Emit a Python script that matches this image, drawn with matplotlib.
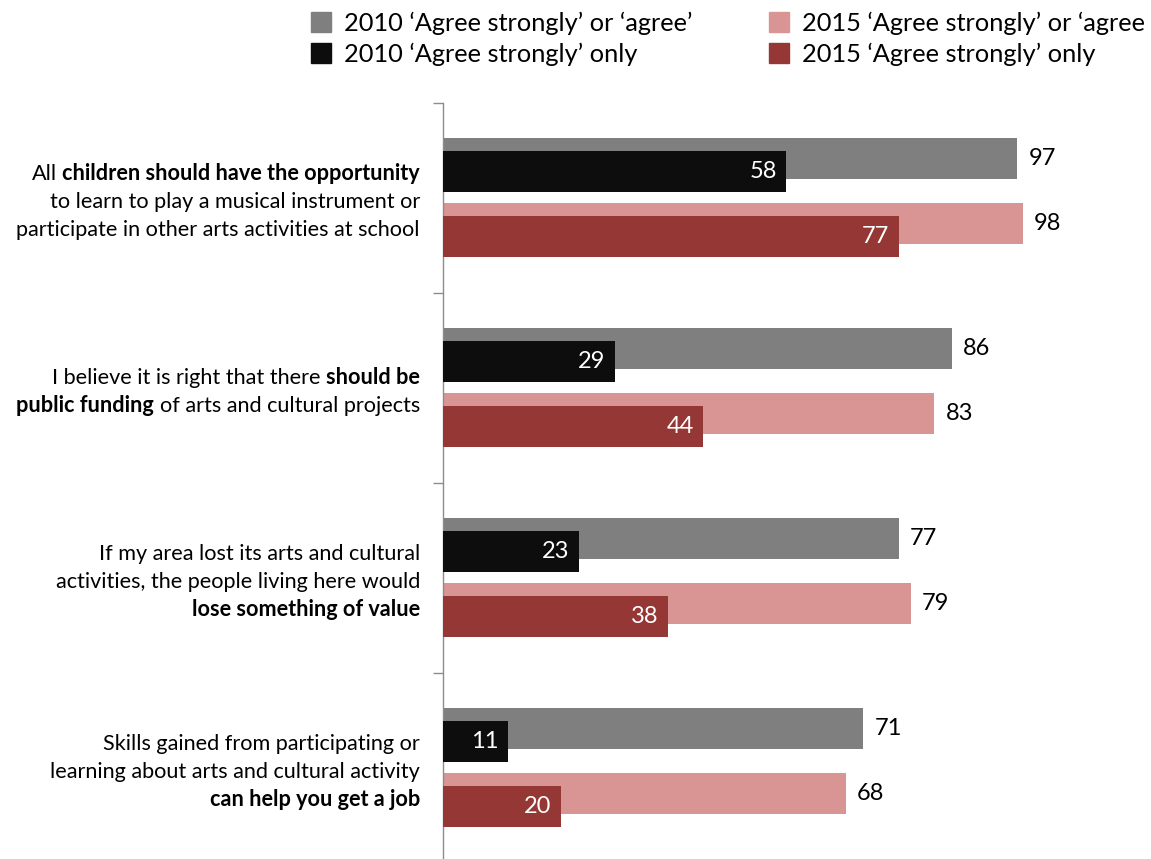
import matplotlib
matplotlib.use("Agg")
import matplotlib.pyplot as plt
from matplotlib.patches import Rectangle

# ---- data -------------------------------------------------------------
statements = [
    [[("All", False), ("children should have the opportunity", True)],
     [("to learn to play a musical instrument or", False)],
     [("participate in other arts activities at school", False)]],
    [[("I believe it is right that there", False), ("should be", True)],
     [("public funding", True), ("of arts and cultural projects", False)]],
    [[("If my area lost its arts and cultural", False)],
     [("activities, the people living here would", False)],
     [("lose something of value", True)]],
    [[("Skills gained from participating or", False)],
     [("learning about arts and cultural activity", False)],
     [("can help you get a job", True)]],
]
agree_2010 = [97, 86, 77, 71]
strongly_2010 = [58, 29, 23, 11]
agree_2015 = [98, 83, 79, 68]
strongly_2015 = [77, 44, 38, 20]

legend_labels = [
    "2010 \u2018Agree strongly\u2019 or \u2018agree\u2019",
    "2010 \u2018Agree strongly\u2019 only",
    "2015 \u2018Agree strongly\u2019 or \u2018agree",
    "2015 \u2018Agree strongly\u2019 only",
]

# ---- style ------------------------------------------------------------
C_GREY = "#7f7f7f"
C_BLACK = "#0d0d0d"
C_PINK = "#d99594"
C_RED = "#953735"
FONT = ["Lato", "DejaVu Sans"]
VAL_SIZE = 17
LAB_SIZE = 15.6
LEG_SIZE = 18.3

W, H = 1151, 859
fig = plt.figure(figsize=(W / 100, H / 100), dpi=100)
renderer = fig.canvas.get_renderer()

ax_left = 443
ax_top = 103
ax = fig.add_axes([ax_left / W, 0, (W - ax_left) / W, (H - ax_top) / H])
ax.set_xlim(0, 119.6)
ax.set_ylim((H - ax_top) / 190, 0)

bar_h = 0.216
n = len(agree_2010)
for i in range(n):
    ax.barh(i + 0.292, agree_2010[i], height=bar_h, color=C_GREY, zorder=2)
    ax.barh(i + 0.363, strongly_2010[i], height=bar_h, color=C_BLACK, zorder=3)
    ax.barh(i + 0.634, agree_2015[i], height=bar_h, color=C_PINK, zorder=2)
    ax.barh(i + 0.705, strongly_2015[i], height=bar_h, color=C_RED, zorder=3)

    for v, y in ((agree_2010[i], i + 0.292), (agree_2015[i], i + 0.634)):
        ax.annotate(f"{v}", xy=(v, y), xytext=(8, 0), textcoords="offset points",
                    ha="left", va="center", fontsize=VAL_SIZE, family=FONT,
                    color="black")
    for v, y in ((strongly_2010[i], i + 0.363), (strongly_2015[i], i + 0.705)):
        ax.annotate(f"{v}", xy=(v, y), xytext=(-7, 0), textcoords="offset points",
                    ha="right", va="center", fontsize=VAL_SIZE, family=FONT,
                    color="white", zorder=4)

for s in ("top", "right", "bottom"):
    ax.spines[s].set_visible(False)
ax.spines["left"].set_color("#8c8c8c")
ax.spines["left"].set_linewidth(1.0)
ax.set_xticks([])
ax.set_yticks(range(n))
ax.set_yticklabels([])
ax.tick_params(axis="y", direction="out", length=7.5, color="#8c8c8c", width=1.0)


# ---- category labels with bold runs ----------------------------------
def text_width(s, bold, size):
    t = fig.text(0, 0, s, fontsize=size, family=FONT,
                 fontweight="bold" if bold else "normal")
    w = t.get_window_extent(renderer).width
    t.remove()
    return w


space_w = text_width("a a", False, LAB_SIZE) - text_width("aa", False, LAB_SIZE)


def rich_line(x_px, y_px, runs, size):
    x = x_px
    for txt, bold in reversed(runs):
        t = fig.text(x / W, 1 - y_px / H, txt, ha="right", va="baseline",
                     fontsize=size, family=FONT,
                     fontweight="bold" if bold else "normal", color="black")
        x -= t.get_window_extent(renderer).width + space_w


line_gap = 28
for i, lines in enumerate(statements):
    centre = ax_top + 190 * i + 96
    first = centre - line_gap * (len(lines) - 1) / 2
    for k, runs in enumerate(lines):
        rich_line(420, first + k * line_gap + 9, runs, LAB_SIZE)

# ---- legend -----------------------------------------------------------
leg_cols = [(311, C_GREY, legend_labels[0], 12), (311, C_BLACK, legend_labels[1], 43),
            (769, C_PINK, legend_labels[2], 12), (769, C_RED, legend_labels[3], 43)]
for x0, col, lab, y0 in leg_cols:
    fig.patches.append(Rectangle((x0 / W, 1 - (y0 + 20) / H), 20 / W, 20 / H,
                                 transform=fig.transFigure, color=col))
    fig.text((x0 + 33) / W, 1 - (y0 + 11) / H, lab, ha="left", va="center",
             fontsize=LEG_SIZE, family=FONT, color="black")

fig.savefig("out.png", dpi=100)
